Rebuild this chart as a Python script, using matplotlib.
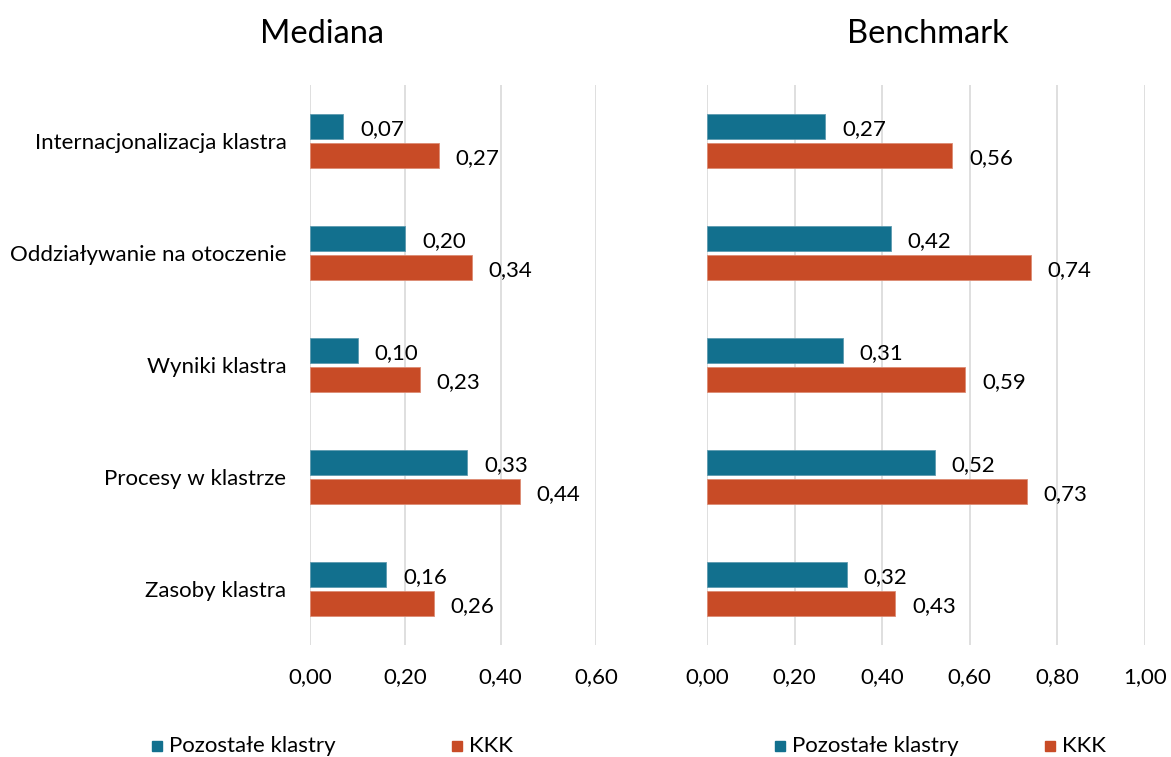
import matplotlib
matplotlib.use("Agg")
import matplotlib.pyplot as plt
from matplotlib.lines import Line2D

plt.rcParams['font.family'] = ['Lato', 'DejaVu Sans']

categories = ["Internacjonalizacja klastra", "Oddziaływanie na otoczenie",
              "Wyniki klastra", "Procesy w klastrze", "Zasoby klastra"]
series_names = ["Pozostałe klastry", "KKK"]

mediana_pozostale = [0.07, 0.20, 0.10, 0.33, 0.16]
mediana_kkk = [0.27, 0.34, 0.23, 0.44, 0.26]
benchmark_pozostale = [0.27, 0.42, 0.31, 0.52, 0.32]
benchmark_kkk = [0.56, 0.74, 0.59, 0.73, 0.43]

mediana_ticks = [0.0, 0.2, 0.4, 0.6]
benchmark_ticks = [0.0, 0.2, 0.4, 0.6, 0.8, 1.0]

BLUE = '#12708E'
RED = '#C84B26'
GRID = '#D9D9D9'
FS = 16

fig = plt.figure(figsize=(11.71, 7.57), dpi=100)
ax_l = fig.add_axes([310 / 1171, 1 - 645 / 757, 286 / 1171, 560 / 757])
ax_r = fig.add_axes([707 / 1171, 1 - 645 / 757, 438 / 1171, 560 / 757])


def fmt(v):
    return f"{v:.2f}".replace('.', ',')


def draw(ax, blue_vals, red_vals, ticks, show_labels):
    ypos = list(range(len(categories)))
    h = 0.225
    off = 0.13
    yb = [y - off for y in ypos]
    yr = [y + off for y in ypos]
    bb = ax.barh(yb, blue_vals, height=h, color=BLUE, edgecolor='#5E9BB0', linewidth=0.6, zorder=3)
    br = ax.barh(yr, red_vals, height=h, color=RED, edgecolor='#DD8B73', linewidth=0.6, zorder=3)
    for bars, vals in ((bb, blue_vals), (br, red_vals)):
        for rect, v in zip(bars, vals):
            ax.annotate(fmt(v), (v, rect.get_y() + rect.get_height() / 2 + 0.02),
                        xytext=(12, 0), textcoords='offset points',
                        ha='left', va='center', fontsize=FS, color='black')
    ax.set_xlim(0, ticks[-1])
    ax.set_ylim(len(categories) - 0.5, -0.5)
    ax.set_xticks(ticks)
    ax.set_xticklabels([fmt(t) for t in ticks], fontsize=FS)
    ax.set_yticks(ypos)
    if show_labels:
        ax.set_yticklabels(categories, fontsize=FS)
    else:
        ax.set_yticklabels([])
    ax.tick_params(axis='both', length=0)
    ax.tick_params(axis='x', pad=16)
    ax.tick_params(axis='y', pad=17)
    for s in ax.spines.values():
        s.set_visible(False)
    ax.xaxis.grid(True, color=GRID, linewidth=1.2, zorder=0)
    ax.set_axisbelow(True)


draw(ax_l, mediana_pozostale, mediana_kkk, mediana_ticks, True)
draw(ax_r, benchmark_pozostale, benchmark_kkk, benchmark_ticks, False)

fig.text(322 / 1171, 1 - 34 / 757, "Mediana", ha='center', va='center', fontsize=23.5)
fig.text(928 / 1171, 1 - 34 / 757, "Benchmark", ha='center', va='center', fontsize=23.5)

# legends beneath each panel
def legend_item(x_marker, color, label):
    y = 1 - 746 / 757
    fig.add_artist(Line2D([x_marker / 1171], [y], marker='s', markersize=6.5,
                          color=color, linestyle='none', transform=fig.transFigure))
    fig.text((x_marker + 12) / 1171, y, label, ha='left', va='center', fontsize=FS)

legend_item(157, BLUE, series_names[0])
legend_item(457, RED, series_names[1])
legend_item(780, BLUE, series_names[0])
legend_item(1050, RED, series_names[1])

fig.savefig("out.png", dpi=100)
